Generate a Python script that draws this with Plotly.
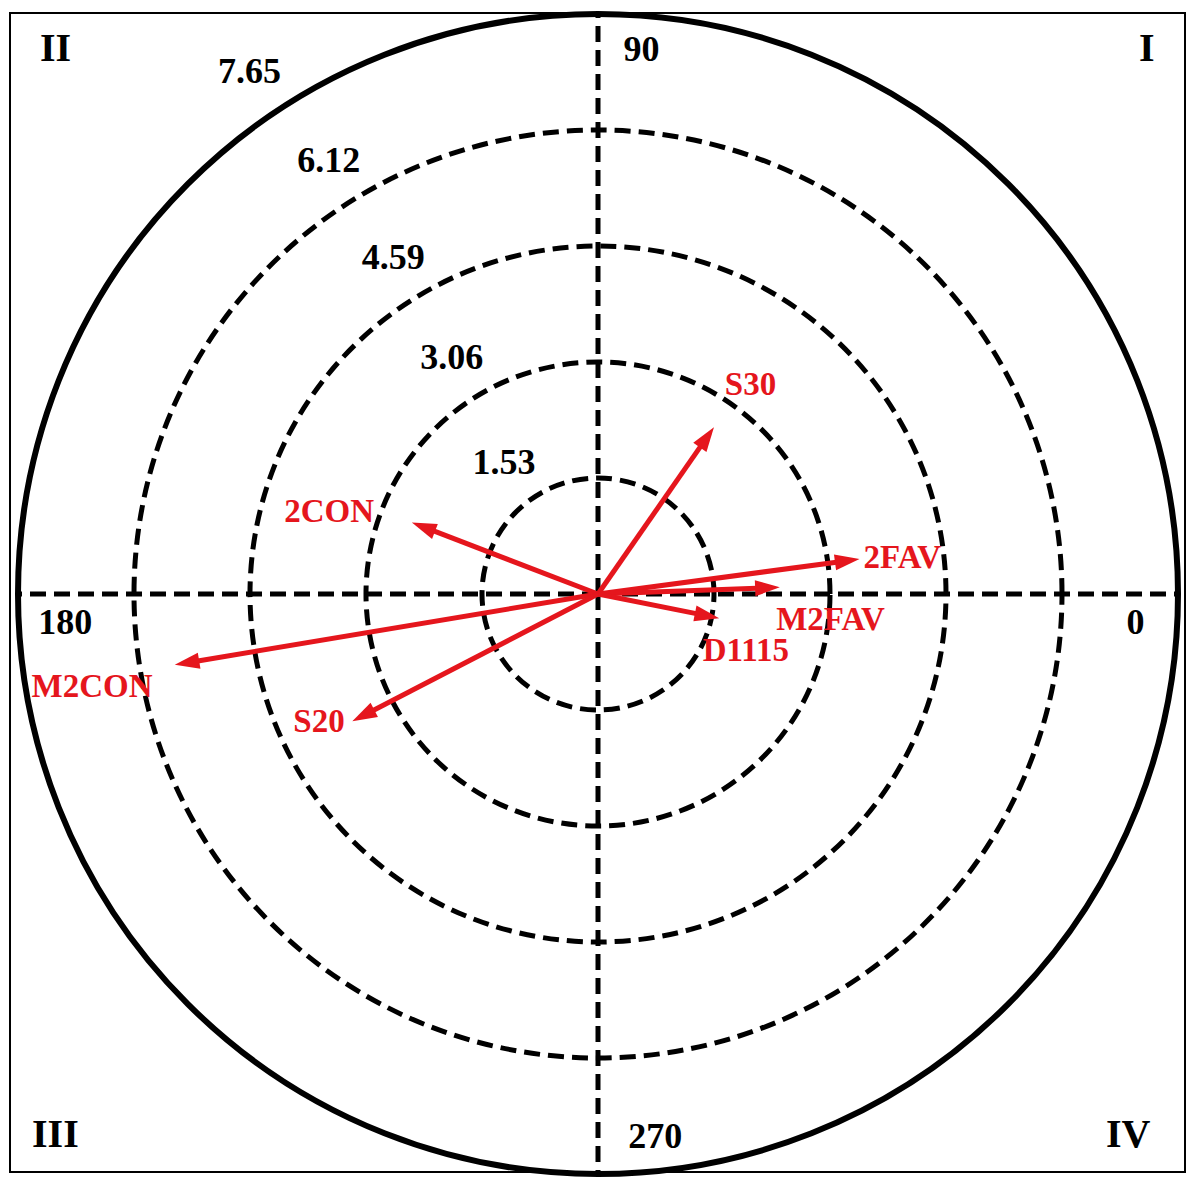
import plotly.graph_objects as go

# ---- data ----
names = ["S30", "2FAV", "M2FAV", "D1115", "2CON", "M2CON", "S20"]
lengths = [2.68, 3.48, 2.40, 1.63, 2.63, 5.66, 3.65]
angles = [55.2, 7.6, 2.1, 348.7, 159.0, 189.5, 207.4]
ring_ticks = [1.53, 3.06, 4.59, 6.12, 7.65]
angle_ticks = [0, 90, 180, 270]
quadrants = ["I", "II", "III", "IV"]

# ---- style ----
W, H = 1195, 1193
RED = "#E5161D"
FONT = "Liberation Serif, Times New Roman, serif"
DASH = "16px,8px"
label_dr = [0.71, 0.56, 0.69, 0.47, 1.07, 1.13, 0.41]
label_dth = [-1.6, -1.1, -9.0, -10.5, 4.4, 1.1, -2.4]
ring_label_dr = 0.58
ring_label_theta = [126.0, 122.0, 121.5, 122.0]
outer_label_px = (249, 71)
ang_label_r = [7.1, 7.17, 7.04, 7.23]
ang_label_dth = [-3.3, -4.6, 3.3, 6.0]
quad_px = [(1147, 48), (55, 48), (55, 1133), (1128, 1133)]
CX, CY, R = 598, 594, 580

fig = go.Figure()

for n, L, A in zip(names, lengths, angles):
    fig.add_trace(go.Scatterpolar(
        r=[0, L], theta=[0, A], mode="lines+markers",
        line=dict(color=RED, width=5),
        marker=dict(symbol=["circle", "arrow"], size=[0, 26], color=RED,
                    opacity=1, angleref="previous", line=dict(width=0)),
        showlegend=False, cliponaxis=False, hoverinfo="skip"))

fig.add_trace(go.Scatterpolar(
    r=[L + d for L, d in zip(lengths, label_dr)],
    theta=[A + d for A, d in zip(angles, label_dth)],
    mode="text", text=names,
    textfont=dict(family=FONT, size=33, color=RED, weight="bold"),
    showlegend=False, cliponaxis=False, hoverinfo="skip"))

inner_ticks = ring_ticks[:-1]
fig.add_trace(go.Scatterpolar(
    r=[t + ring_label_dr for t in inner_ticks],
    theta=ring_label_theta,
    mode="text", text=[f"{t:.2f}" for t in inner_ticks],
    textfont=dict(family=FONT, size=36, color="black", weight="bold"),
    showlegend=False, cliponaxis=False, hoverinfo="skip"))

fig.add_annotation(x=outer_label_px[0] / W, y=1 - outer_label_px[1] / H,
                   xref="paper", yref="paper", text=f"{ring_ticks[-1]:.2f}",
                   showarrow=False, xanchor="center", yanchor="middle",
                   font=dict(family=FONT, size=36, color="black", weight="bold"))

fig.add_trace(go.Scatterpolar(
    r=ang_label_r,
    theta=[a + d for a, d in zip(angle_ticks, ang_label_dth)],
    mode="text", text=[str(a) for a in angle_ticks],
    textfont=dict(family=FONT, size=36, color="black", weight="bold"),
    showlegend=False, cliponaxis=False, hoverinfo="skip"))

for q, (px, py) in zip(quadrants, quad_px):
    fig.add_annotation(x=px / W, y=1 - py / H, xref="paper", yref="paper", text=q,
                       showarrow=False, xanchor="center", yanchor="middle",
                       font=dict(family=FONT, size=40, color="black", weight="bold"))

fig.add_shape(type="rect", xref="paper", yref="paper",
              x0=10 / W, x1=1185 / W, y0=1 - 1172 / H, y1=1 - 13 / H,
              line=dict(color="black", width=2), layer="below")

fig.update_layout(
    width=W, height=H,
    margin=dict(l=0, r=0, t=0, b=0),
    paper_bgcolor="white", plot_bgcolor="white",
    polar=dict(
        domain=dict(x=[(CX - R) / W, (CX + R) / W],
                    y=[1 - (CY + R) / H, 1 - (CY - R) / H]),
        bgcolor="white",
        radialaxis=dict(range=[0, ring_ticks[-1]], tickvals=inner_ticks,
                        showticklabels=False, ticks="", showline=False,
                        gridcolor="black", gridwidth=5, griddash=DASH),
        angularaxis=dict(tickvals=angle_ticks, showticklabels=False, ticks="",
                         direction="counterclockwise", rotation=0,
                         showline=True, linecolor="black", linewidth=6,
                         gridcolor="black", gridwidth=5, griddash=DASH),
    ),
)

fig.write_html("out.html", config={"displayModeBar": False},
               post_script="document.body.style.margin='0px';document.body.style.overflow='hidden';")
